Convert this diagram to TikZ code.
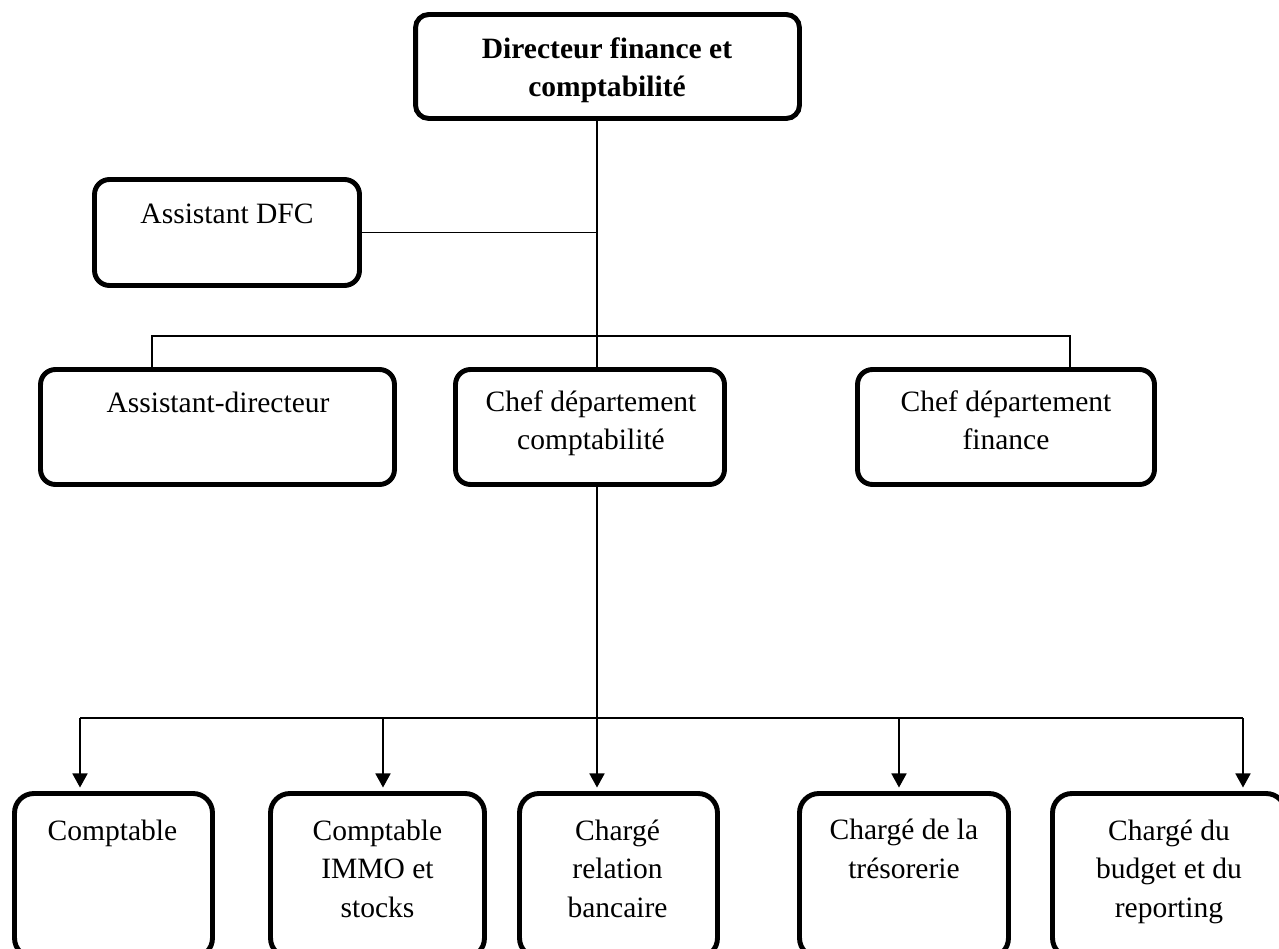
\documentclass[tikz,border=0pt]{standalone}
\usepackage{fontspec}
\setmainfont{Liberation Serif}
\usetikzlibrary{arrows.meta}

\begin{document}
\begin{tikzpicture}[x=0.02cm,y=-0.02cm,
    boite/.style={draw,line width=2.8pt,rounded corners=8.5pt,inner sep=0pt},
    texte/.style={anchor=base,align=center,inner sep=0pt,font=\fontsize{16.8}{21.8}\selectfont},
    lien/.style={line width=1.1pt},
    fleche/.style={line width=1.1pt,shorten >=2pt,-{Triangle[width=8.5pt,length=8pt]}}]
  \useasboundingbox (0,0) rectangle (1279,949);
  % direction
  \node[boite,rounded corners=7.5pt,minimum width=7.68cm,minimum height=2.08cm] (dfc) at (607.5,66.5) {};
  \node[texte,font=\fontsize{16.8}{22.1}\selectfont\bfseries] (dfcT) at (607,97) {Directeur finance et\\comptabilit\'e};
  \node[boite,minimum width=5.3cm,minimum height=2.12cm] (adfc) at (227,232.5) {};
  \node[texte] (adfcT) at (227,224) {Assistant DFC};
  % departements
  \node[boite,minimum width=7.08cm,minimum height=2.3cm] (adir) at (217.5,427) {};
  \node[texte] (adirT) at (218,413) {Assistant-directeur};
  \node[boite,minimum width=5.38cm,minimum height=2.3cm] (chefcpt) at (590,427) {};
  \node[texte] (chefcptT) at (591,450) {Chef d\'epartement\\comptabilit\'e};
  \node[boite,minimum width=5.94cm,minimum height=2.3cm] (chefin) at (1006,427) {};
  \node[texte] (chefinT) at (1006,450) {Chef d\'epartement\\finance};
  % postes
  \node[boite,rounded corners=11pt,minimum width=3.96cm,minimum height=3.28cm] (cpt) at (113.5,875.5) {};
  \node[texte] (cptT) at (112.5,840) {Comptable};
  \node[boite,rounded corners=11pt,minimum width=4.28cm,minimum height=3.28cm] (immo) at (377.5,875.5) {};
  \node[texte] (immoT) at (377.5,917) {Comptable\\IMMO et\\stocks};
  \node[boite,rounded corners=11pt,minimum width=3.96cm,minimum height=3.28cm] (rel) at (618.5,875.5) {};
  \node[texte] (relT) at (617.5,917) {Charg\'e\\relation\\bancaire};
  \node[boite,rounded corners=11pt,minimum width=4.18cm,minimum height=3.28cm] (tres) at (904,875.5) {};
  \node[texte] (tresT) at (904,878) {Charg\'e de la\\tr\'esorerie};
  \node[boite,rounded corners=11pt,minimum width=4.66cm,minimum height=3.28cm] (budg) at (1169,875.5) {};
  \node[texte] (budgT) at (1169,917) {Charg\'e du\\budget et du\\reporting};

  \coordinate (j1) at (597,336);
  \coordinate (j2) at (597,718);
  \coordinate (g1) at (152,336);
  \coordinate (d1) at (1070,336);
  \coordinate (a1) at (80,718);
  \coordinate (a2) at (383,718);
  \coordinate (a4) at (899,718);
  \coordinate (a5) at (1243,718);

  \draw[lien] (dfc.south -| j1) -- (j1) -- (j1 |- chefcpt.north);
  \draw[lien] (adfc.east) -- (adfc.east -| j1);
  \draw[lien] (g1 |- adir.north) -- (g1) -- (d1) -- (d1 |- chefin.north);
  \draw[lien] (j1 |- chefcpt.south) -- (j2);
  \draw[lien] (a1) -- (a5);
  \draw[fleche] (a1) -- (a1 |- cpt.north);
  \draw[fleche] (a2) -- (a2 |- immo.north);
  \draw[fleche] (j2) -- (j2 |- rel.north);
  \draw[fleche] (a4) -- (a4 |- tres.north);
  \draw[fleche] (a5) -- (a5 |- budg.north);
\end{tikzpicture}
\end{document}
